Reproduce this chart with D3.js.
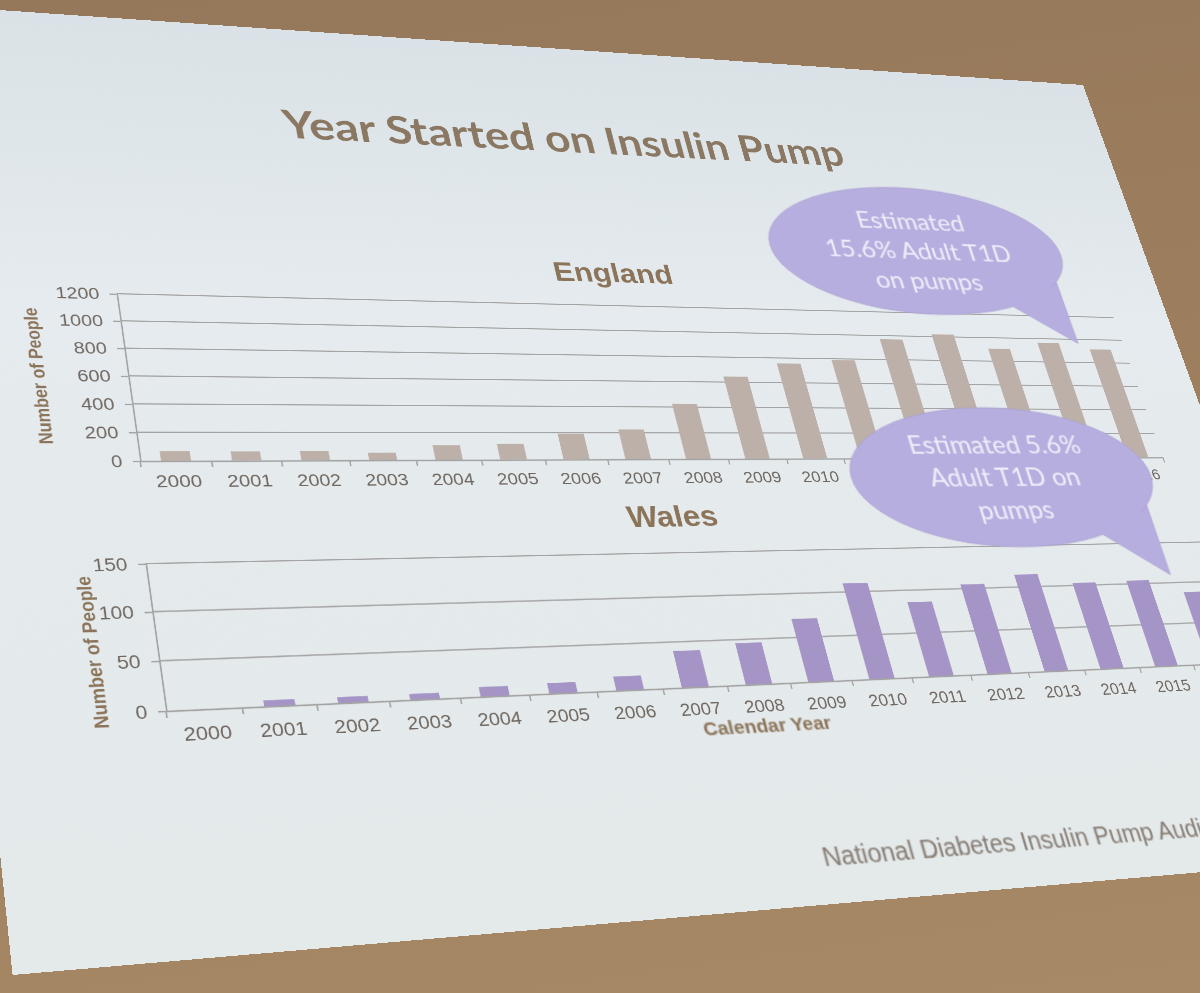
<!DOCTYPE html>
<html>
<head>
<meta charset="utf-8">
<script src="https://cdn.jsdelivr.net/npm/d3@7"></script>
<style>
  html, body { margin: 0; padding: 0; }
  body {
    width: 1200px; height: 993px; overflow: hidden; position: relative;
    background: linear-gradient(172deg, #95785a 0%, #9d7f5e 45%, #a88966 100%);
  }
  #slide { position: absolute; left: 0; top: 0; transform-origin: 0 0; }
</style>
</head>
<body>
<svg id="slide"></svg>
<script>
// ---------------- data ----------------
const years = ["2000","2001","2002","2003","2004","2005","2006","2007","2008",
               "2009","2010","2011","2012","2013","2014","2015","2016"];
const englandValues = [68, 64, 65, 53, 108, 117, 192, 225, 425, 645, 755, 790, 970, 1020, 905, 965, 915];
const walesValues   = [0, 6, 6, 6, 10, 11, 15, 40, 46, 71, 110, 86, 105, 115, 103, 104, 88];
const englandTicks = [0, 200, 400, 600, 800, 1000, 1200];
const walesTicks   = [0, 50, 100, 150];
const slideTitle = "Year Started on Insulin Pump";
const englandTitle = "England";
const walesTitle = "Wales";
const yAxisTitle = "Number of People";
const xAxisTitle = "Calendar Year";
const englandNote = ["Estimated", "15.6% Adult T1D", "on pumps"];
const walesNote = ["Estimated 5.6%", "Adult T1D on", "pumps"];
const footerText = "National Diabetes Insulin Pump Audit";

// ---------------- slide geometry (projected photo of a 4:3 slide) ----------------
const W = 1000, H = 750, RES = 2;
const corners = [[-88, 4], [1083, 85], [1365, 858], [12.6, 975]]; // TL, TR, BR, BL

function squareToQuad(q) {
  const [[x0, y0], [x1, y1], [x2, y2], [x3, y3]] = q;
  const dx1 = x1 - x2, dy1 = y1 - y2, dx2 = x3 - x2, dy2 = y3 - y2;
  const sx = x0 - x1 + x2 - x3, sy = y0 - y1 + y2 - y3;
  const det = dx1 * dy2 - dx2 * dy1;
  const g = (sx * dy2 - dx2 * sy) / det, h = (dx1 * sy - sx * dy1) / det;
  return { a: x1 - x0 + g * x1, b: x3 - x0 + h * x3, c: x0,
           d: y1 - y0 + g * y1, e: y3 - y0 + h * y3, f: y0, g, h };
}
const M = squareToQuad(corners);
const sw = W * RES, sh = H * RES;

const svg = d3.select("#slide")
  .attr("width", sw).attr("height", sh)
  .attr("viewBox", `0 0 ${W} ${H}`)
  .style("transform", `matrix3d(${M.a / sw},${M.d / sw},0,${M.g / sw},${M.b / sh},${M.e / sh},0,${M.h / sh},0,0,1,0,${M.c},${M.f},0,1)`);

const defs = svg.append("defs");
const bg = defs.append("linearGradient").attr("id", "bg").attr("x1", 0).attr("y1", 0).attr("x2", 0).attr("y2", 1);
bg.append("stop").attr("offset", "0%").attr("stop-color", "#dae2e7");
bg.append("stop").attr("offset", "35%").attr("stop-color", "#e5ebee");
bg.append("stop").attr("offset", "100%").attr("stop-color", "#e4e9ea");

svg.append("rect").attr("width", W).attr("height", H).attr("fill", "url(#bg)");

// ---------------- styles ----------------
const tickFont = "'Liberation Sans', Arial, sans-serif";
const tickColor = "#6f6760";
const brown = "#8b7459";
const gridColor = "#a4a4a4";

// ---------------- title ----------------
svg.append("text")
  .attr("x", 497).attr("y", 106)
  .attr("text-anchor", "middle")
  .attr("font-family", "Lato, 'Open Sans', sans-serif")
  .attr("font-weight", 700).attr("font-size", 37)
  .attr("fill", "#8a7863")
  .text(slideTitle);

// ---------------- chart builder ----------------
function drawChart(cfg) {
  const g = svg.append("g");
  const x = d3.scaleBand().domain(years).range([cfg.x0, cfg.x1])
    .paddingInner(0.58).paddingOuter(0.29);
  const y = d3.scaleLinear().domain([0, d3.max(cfg.ticks)]).range([cfg.yBase, cfg.yTop]);

  // chart title
  g.append("text")
    .attr("x", cfg.titleX).attr("y", cfg.titleY)
    .attr("text-anchor", "middle")
    .attr("font-family", tickFont).attr("font-weight", 700).attr("font-size", 25)
    .attr("fill", brown)
    .text(cfg.title);

  // gridlines
  g.append("g").selectAll("line")
    .data(cfg.ticks.filter(t => t > 0))
    .join("line")
    .attr("x1", cfg.x0).attr("x2", cfg.x1)
    .attr("y1", d => y(d)).attr("y2", d => y(d))
    .attr("stroke", gridColor).attr("stroke-width", 1.1);

  // bars
  g.append("g").selectAll("rect")
    .data(years.map((yr, i) => ({ yr, v: cfg.values[i] })))
    .join("rect")
    .attr("x", d => x(d.yr))
    .attr("width", x.bandwidth())
    .attr("y", d => y(d.v))
    .attr("height", d => y(0) - y(d.v))
    .attr("fill", cfg.color);

  // y axis
  const ya = g.append("g")
    .attr("transform", `translate(${cfg.x0},0)`)
    .call(d3.axisLeft(y).tickValues(cfg.ticks).tickFormat(d3.format("d"))
      .tickSize(5).tickSizeOuter(0).tickPadding(7));
  ya.selectAll("path,line").attr("stroke", gridColor).attr("stroke-width", 1.1);
  ya.selectAll("text").attr("font-family", tickFont).attr("font-size", 13.5).attr("fill", tickColor);

  // x axis
  const xa = g.append("g")
    .attr("transform", `translate(0,${cfg.yBase})`)
    .call(d3.axisBottom(x).tickSize(0).tickSizeOuter(0).tickPadding(cfg.labelPad));
  xa.select("path").attr("stroke", gridColor).attr("stroke-width", 1.2);
  xa.selectAll("text").attr("font-family", tickFont).attr("font-size", 14).attr("fill", tickColor);

  // tick marks between categories
  const gap = (x.step() - x.bandwidth()) / 2;
  const bounds = years.map(yr => x(yr) - gap).concat([x(years[years.length - 1]) + x.bandwidth() + gap]);
  xa.append("g").selectAll("line")
    .data(bounds)
    .join("line")
    .attr("x1", d => d).attr("x2", d => d)
    .attr("y1", 0).attr("y2", 5)
    .attr("stroke", gridColor).attr("stroke-width", 1.1);

  // y axis title
  g.append("text")
    .attr("transform", `translate(${cfg.yTitleX},${cfg.yTitleY}) rotate(-90)`)
    .attr("text-anchor", "middle").attr("dominant-baseline", "central")
    .attr("font-family", tickFont).attr("font-weight", 700).attr("font-size", 13)
    .attr("fill", brown)
    .text(yAxisTitle);

  return { g, x, y };
}

drawChart({
  title: englandTitle, titleX: 500, titleY: 231,
  values: englandValues, ticks: englandTicks, color: "#bcb0a8",
  x0: 118, x1: 945, yTop: 253, yBase: 391, labelPad: 11,
  yTitleX: 57, yTitleY: 322
});

drawChart({
  title: walesTitle, titleX: 499, titleY: 449,
  values: walesValues, ticks: walesTicks, color: "#a594c6",
  x0: 112, x1: 955, yTop: 471, yBase: 580, labelPad: 12,
  yTitleX: 70, yTitleY: 535
});

// x axis title (Wales chart)
svg.append("text")
  .attr("x", 532).attr("y", 618)
  .attr("text-anchor", "middle")
  .attr("font-family", tickFont).attr("font-weight", 700).attr("font-size", 15)
  .attr("fill", brown)
  .text(xAxisTitle);

// ---------------- speech bubbles ----------------
function bubble(cx, cy, rx, ry, tip, lines) {
  const g = svg.append("g");
  const a1 = 58 * Math.PI / 180, a2 = 26 * Math.PI / 180;
  const fill = "#b7aee0";
  g.append("path")
    .attr("d", `M${cx + rx * Math.cos(a1)},${cy + ry * Math.sin(a1)} L${tip[0]},${tip[1]} L${cx + rx * Math.cos(a2)},${cy + ry * Math.sin(a2)} Z`)
    .attr("fill", fill).attr("stroke", "#a99fcf").attr("stroke-width", 0.8);
  g.append("ellipse")
    .attr("cx", cx).attr("cy", cy).attr("rx", rx).attr("ry", ry)
    .attr("fill", fill).attr("stroke", "#a99fcf").attr("stroke-width", 0.8);
  // cover the seam between tail and ellipse
  g.append("path")
    .attr("d", `M${cx + rx * Math.cos(a1) * 0.97},${cy + ry * Math.sin(a1) * 0.97} L${cx + (tip[0] - cx) * 0.8},${cy + (tip[1] - cy) * 0.8} L${cx + rx * Math.cos(a2) * 0.97},${cy + ry * Math.sin(a2) * 0.97} Z`)
    .attr("fill", fill);
  g.selectAll("text")
    .data(lines)
    .join("text")
    .attr("x", cx)
    .attr("y", (d, i) => cy + (i - 1) * 30)
    .attr("text-anchor", "middle").attr("dominant-baseline", "central")
    .attr("font-family", "Lato, 'Open Sans', sans-serif")
    .attr("font-size", 23)
    .attr("fill", "#efedf9")
    .text(d => d);
}
bubble(778, 190, 136, 64, [901, 280], englandNote);
bubble(791, 408, 136, 64, [913, 500], walesNote);

// ---------------- footer ----------------
svg.append("text")
  .attr("x", 548).attr("y", 722)
  .attr("font-family", tickFont).attr("font-size", 19.5)
  .attr("fill", "#857b72")
  .text(footerText);
</script>
</body>
</html>
